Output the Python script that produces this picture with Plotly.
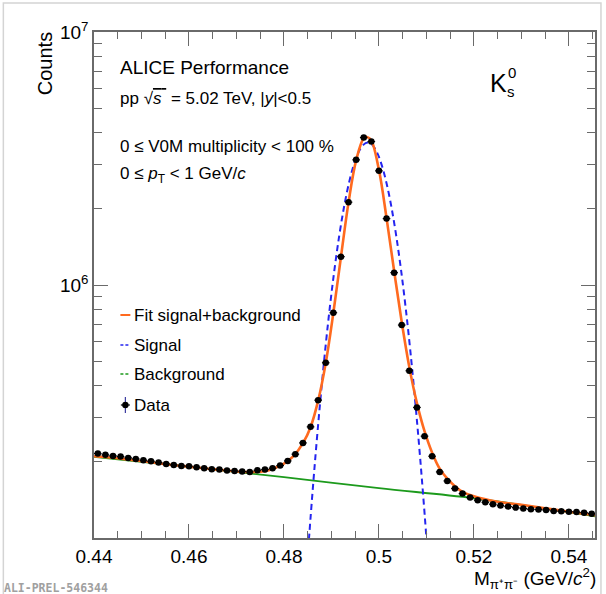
import plotly.graph_objects as go

# ---------------- data ----------------
mass = [0.4408, 0.4424, 0.4440, 0.4456, 0.4472, 0.4488, 0.4504, 0.4520, 0.4536, 0.4552,
        0.4568, 0.4584, 0.4600, 0.4616, 0.4632, 0.4648, 0.4664, 0.4680, 0.4696, 0.4712,
        0.4728, 0.4744, 0.4760, 0.4776, 0.4792, 0.4808, 0.4824, 0.4840, 0.4856, 0.4872,
        0.4888, 0.4904, 0.4920, 0.4936, 0.4952, 0.4968, 0.4984, 0.5000, 0.5016, 0.5032,
        0.5048, 0.5064, 0.5080, 0.5096, 0.5112, 0.5128, 0.5144, 0.5160, 0.5176, 0.5192,
        0.5208, 0.5224, 0.5240, 0.5256, 0.5272, 0.5288, 0.5304, 0.5320, 0.5336, 0.5352,
        0.5368, 0.5384, 0.5400, 0.5416, 0.5432, 0.5448]
counts = [2.158e5, 2.131e5, 2.111e5, 2.099e5, 2.073e5, 2.054e5, 2.030e5, 2.011e5, 1.988e5, 1.962e5,
          1.945e5, 1.927e5, 1.922e5, 1.905e5, 1.887e5, 1.870e5, 1.865e5, 1.848e5, 1.841e5, 1.831e5,
          1.825e5, 1.853e5, 1.865e5, 1.887e5, 1.934e5, 2.017e5, 2.144e5, 2.376e5, 2.750e5, 3.506e5,
          4.926e5, 7.772e5, 1.294e6, 2.125e6, 3.124e6, 3.827e6, 3.690e6, 2.826e6, 1.830e6, 1.119e6,
          6.945e5, 4.581e5, 3.281e5, 2.526e5, 2.105e5, 1.825e5, 1.681e5, 1.569e5, 1.498e5, 1.445e5,
          1.410e5, 1.384e5, 1.360e5, 1.343e5, 1.331e5, 1.319e5, 1.307e5, 1.299e5, 1.295e5, 1.291e5,
          1.279e5, 1.275e5, 1.271e5, 1.267e5, 1.259e5, 1.248e5]
bin_half_width = [0.0008] * len(mass)

fit_mass = [0.4400, 0.4440, 0.4480, 0.4520, 0.4560, 0.4600, 0.4640, 0.4680, 0.4720, 0.4760,
            0.4780, 0.4800, 0.4820, 0.4840, 0.4856, 0.4872, 0.4888, 0.4904, 0.4920, 0.4936,
            0.4952, 0.4968, 0.4976, 0.4984, 0.5000, 0.5016, 0.5032, 0.5048, 0.5064, 0.5080,
            0.5096, 0.5112, 0.5128, 0.5144, 0.5160, 0.5176, 0.5200, 0.5250, 0.5300, 0.5350,
            0.5400, 0.5455]
fit_counts = [2.105e5, 2.077e5, 2.034e5, 1.993e5, 1.948e5, 1.913e5, 1.879e5, 1.848e5, 1.823e5, 1.836e5,
              1.887e5, 1.966e5, 2.105e5, 2.370e5, 2.742e5, 3.491e5, 4.912e5, 7.748e5, 1.2906e6, 2.1213e6,
              3.1093e6, 3.7988e6, 3.8406e6, 3.7303e6, 2.8518e6, 1.8415e6, 1.1360e6, 7.138e5, 4.736e5, 3.413e5,
              2.644e5, 2.174e5, 1.879e5, 1.715e5, 1.602e5, 1.523e5, 1.462e5, 1.391e5, 1.353e5, 1.311e5,
              1.270e5, 1.230e5]

sig_mass = [0.48464, 0.48564, 0.48664, 0.48764, 0.48864, 0.48964, 0.49064, 0.49164, 0.49264, 0.49364,
            0.49464, 0.49564, 0.49664, 0.49764, 0.49864, 0.49964, 0.50064, 0.50164, 0.50264, 0.50364,
            0.50464, 0.50564, 0.50664, 0.50764, 0.50864, 0.50964, 0.51064]
sig_counts = [6.83e4, 1.230e5, 2.114e5, 3.467e5, 5.427e5, 8.10e5, 1.153e6, 1.566e6, 2.029e6, 2.508e6,
              2.958e6, 3.329e6, 3.572e6, 3.657e6, 3.572e6, 3.329e6, 2.958e6, 2.508e6, 2.029e6, 1.566e6,
              1.153e6, 8.10e5, 5.427e5, 3.467e5, 2.114e5, 1.230e5, 6.83e4]

bkg_mass = [0.4400, 0.4600, 0.4800, 0.5000, 0.5200, 0.5455]
bkg_counts = [2.095e5, 1.913e5, 1.739e5, 1.573e5, 1.436e5, 1.219e5]

x_tickvals = [0.44, 0.46, 0.48, 0.50, 0.52, 0.54]
x_ticktext = ["0.44", "0.46", "0.48", "0.5", "0.52", "0.54"]
y_tickvals = [1e6, 1e7]
y_ticktext = ["10<sup>6</sup>", "10<sup>7</sup>"]
y_minor_vals = [2e5, 3e5, 4e5, 5e5, 6e5, 7e5, 8e5, 9e5, 2e6, 3e6, 4e6, 5e6, 6e6, 7e6, 8e6, 9e6]

# ---------------- styles ----------------
ORANGE = "#ff6a1f"
BLUE = "#2424f0"
GREEN = "#1c9a1c"
AXC = "#6a6a6a"
FONT = "Liberation Sans, Arial, sans-serif"

W, H = 606, 594
ML, MR, MT, MB = 94, 9, 32, 56


def px(x):
    return (x - ML) / (W - ML - MR)


def py(y):
    return (H - MB - y) / (H - MT - MB)


fig = go.Figure()
fig.add_trace(go.Scatter(x=bkg_mass, y=bkg_counts, mode="lines", line=dict(color=GREEN, width=1.8, shape="spline"),
                         showlegend=False, hoverinfo="skip"))
fig.add_trace(go.Scatter(x=sig_mass, y=sig_counts, mode="lines",
                         line=dict(color=BLUE, width=2, dash="6px,4px", shape="spline"),
                         showlegend=False, hoverinfo="skip"))
fig.add_trace(go.Scatter(x=fit_mass, y=fit_counts, mode="lines", line=dict(color=ORANGE, width=2.6, shape="spline"),
                         showlegend=False, hoverinfo="skip"))
fig.add_trace(go.Scatter(x=mass, y=counts, mode="markers",
                         marker=dict(color="black", size=6.5, symbol="circle"),
                         error_x=dict(type="data", array=bin_half_width, color="black", thickness=1.2, width=0),
                         showlegend=False))

fig.update_xaxes(range=[0.44, 0.5455], tickvals=x_tickvals, ticktext=x_ticktext,
                 ticks="inside", ticklen=14, tickwidth=1, tickcolor=AXC,
                 showline=True, linecolor=AXC, linewidth=1.5, mirror="allticks",
                 showgrid=False, zeroline=False,
                 tickfont=dict(size=19, color="black", family=FONT),
                 minor=dict(dtick=0.005, tick0=0.44, ticks="inside", ticklen=7, tickcolor=AXC, tickwidth=1,
                            showgrid=False))
fig.update_yaxes(type="log", range=[5, 7], tickvals=y_tickvals, ticktext=y_ticktext,
                 ticks="inside", ticklen=14, tickwidth=1, tickcolor=AXC,
                 showline=True, linecolor=AXC, linewidth=1.5, mirror="allticks",
                 showgrid=False, zeroline=False,
                 tickfont=dict(size=19, color="black", family=FONT),
                 minor=dict(tickvals=y_minor_vals, ticks="inside", ticklen=8, tickcolor=AXC, tickwidth=1,
                            showgrid=False))

ann = []


def text(x, y, s, size=17, xanchor="left", yanchor="middle", **kw):
    ann.append(dict(x=px(x), y=py(y), xref="paper", yref="paper", text=s, showarrow=False,
                    xanchor=xanchor, yanchor=yanchor, font=dict(size=size, color=kw.pop("color", "black"),
                                                                family=kw.pop("family", FONT)), **kw))


text(118, 67, "ALICE Performance", size=19)
text(118, 98, "pp √<span style='text-decoration:overline'><i>s</i> </span> = 5.02 TeV, |<i>y</i>|&lt;0.5", size=17)
text(118, 146, "0 ≤ V0M multiplicity &lt; 100 %", size=17)
text(118, 175, "0 ≤ <i>p</i><sub>T</sub> &lt; 1 GeV/<i>c</i>", size=17)
text(500, 83, "K", size=25, xanchor="center")
text(514, 73, "0", size=15, xanchor="center")
text(513, 91, "s", size=15, xanchor="center")
text(45, 64, "Counts", size=20, xanchor="center", textangle=-90)
text(600, 578, "M<sub>π⁺π⁻</sub> (GeV/<i>c</i><sup>2</sup>)", size=19, xanchor="right")
text(2, 579, "<b>ALI-PREL-546344</b>", size=11.5, yanchor="top", color="#a0a0a0",
     family="DejaVu Sans Mono, Liberation Mono, monospace")

# legend (hand-drawn, ROOT style)
leg = [("Fit signal+background", 315), ("Signal", 345), ("Background", 374), ("Data", 405)]
for label, yy in leg:
    text(132, yy, label, size=17)

shapes = []


def seg(x0, y0, x1, y1, color, width, dash="solid"):
    shapes.append(dict(type="line", xref="paper", yref="paper", x0=px(x0), y0=py(y0), x1=px(x1), y1=py(y1),
                       line=dict(color=color, width=width, dash=dash)))


seg(120.5, 315, 130.5, 315, ORANGE, 2)
seg(120.5, 345, 130.5, 345, BLUE, 1.5, "3px,2px")
seg(120.5, 374, 130.5, 374, GREEN, 1.5, "3px,2px")
seg(125.5, 397, 125.5, 413, "#3a3aa0", 1.2)
seg(121, 405, 130, 405, "black", 1.2)
shapes.append(dict(type="circle", xref="paper", yref="paper", x0=px(122.3), x1=px(128.7), y0=py(401.8), y1=py(408.2),
                   fillcolor="black", line=dict(color="black", width=0)))
# canvas border
shapes.append(dict(type="rect", xref="paper", yref="paper", x0=px(3), x1=px(603), y0=py(3), y1=py(604),
                   line=dict(color="#d4d4d4", width=1.5)))

fig.update_layout(width=W, height=H, margin=dict(l=ML, r=MR, t=MT, b=MB),
                  paper_bgcolor="white", plot_bgcolor="white",
                  font=dict(family=FONT, color="black"),
                  annotations=ann, shapes=shapes, showlegend=False)

fig.write_html("out.html")
